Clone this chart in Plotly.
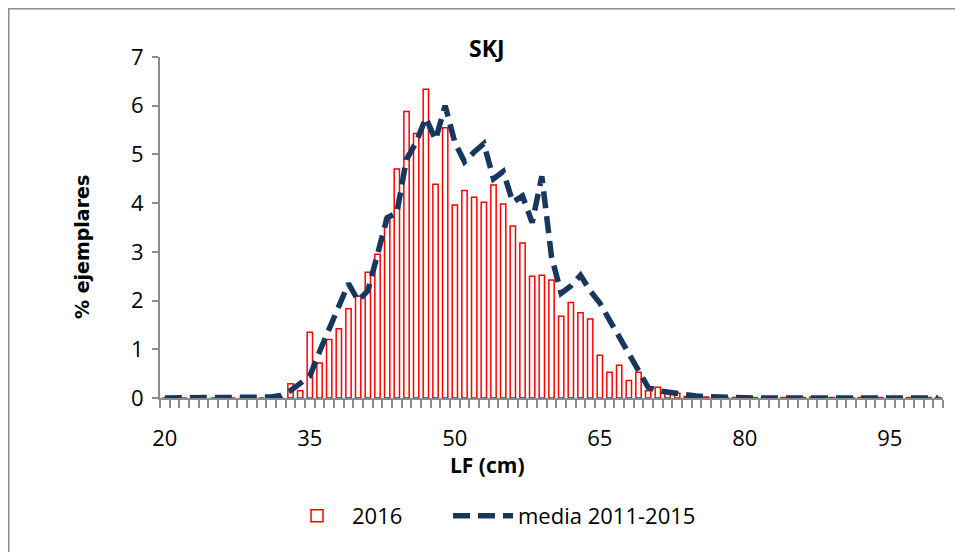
import plotly.graph_objects as go

# LF (cm) categories
categories = list(range(20, 101))

# % ejemplares, 2016 (bars)
v2016 = [0]*13 + [
    0.29, 0.15, 1.35, 0.72, 1.20, 1.42, 1.83, 2.09, 2.58, 2.95,   # 33-42
    3.69, 4.70, 5.88, 5.43, 6.34, 4.39, 5.55, 3.96, 4.26, 4.12,   # 43-52
    4.02, 4.37, 3.98, 3.53, 3.18, 2.50, 2.52, 2.42, 1.68, 1.96,   # 53-62
    1.75, 1.62, 0.88, 0.53, 0.67, 0.36, 0.53, 0.15, 0.22, 0.13,   # 63-72
    0.10, 0.03, 0.02, 0.02, 0.02, 0.01, 0.01, 0.01, 0.01, 0.01,   # 73-82
    0.01, 0.01, 0.01, 0.01, 0.02, 0.01, 0.01, 0.01, 0.01, 0.01,   # 83-92
    0.01, 0.01, 0.01, 0.01, 0.01, 0.01, 0.01, 0.01,               # 93-100
]

# % ejemplares, media 2011-2015 (dashed line)
vmedia = [0]*10 + [
    0.01, 0.02, 0.05, 0.15, 0.30, 0.45, 0.95, 1.40, 1.90, 2.35,   # 30-39
    2.00, 2.20, 2.95, 3.70, 3.80, 4.90, 5.25, 5.75, 5.30, 6.00,   # 40-49
    5.25, 4.85, 5.05, 5.22, 4.50, 4.65, 4.02, 4.15, 3.60, 4.55,   # 50-59
    2.90, 2.15, 2.30, 2.52, 2.20, 1.95, 1.60, 1.25, 0.95, 0.60,   # 60-69
    0.22, 0.15, 0.12, 0.09, 0.06, 0.04, 0.03, 0.02, 0.01, 0.00,   # 70-79
    0.00, 0.00, 0.00, 0.00, 0.00, 0.01, 0.01, 0.02, 0.02, 0.01,   # 80-89
    0.00, 0.00, 0.00, 0.00, 0.00, 0.00, 0.00, 0.00, 0.00, 0.00,   # 90-99
    0.00,                                                          # 100
]

x_ticks = [20, 35, 50, 65, 80, 95]
y_ticks = [0, 1, 2, 3, 4, 5, 6, 7]

FONT = "Open Sans, sans-serif"
AXIS_GRAY = "#8c8c8c"
NAVY = "#17375E"

# page has an 8px body margin; figure sized/positioned to compensate
W, H = 955, 544
L, T, PW, PH = 152, 49, 783, 341

def px(xp):  # page x -> paper
    return (xp - 8 - L) / PW

def py(yp):  # page y -> paper
    return (T + PH - (yp - 8)) / PH

fig = go.Figure()
fig.add_trace(go.Bar(
    x=categories, y=v2016, name="2016", width=0.55,
    marker=dict(color="white", line=dict(color="#FF0000", width=1.5)),
    legend="legend",
))
fig.add_trace(go.Scatter(
    x=categories, y=vmedia, name="media 2011-2015", mode="lines",
    line=dict(color=NAVY, width=5.5, dash="17px,8px"),
    legend="legend2",
))

legend_common = dict(orientation="h", xanchor="left", yanchor="middle",
                     font=dict(family=FONT, size=22), itemwidth=60,
                     bgcolor="rgba(0,0,0,0)")

fig.update_layout(
    width=W, height=H,
    margin=dict(l=L, r=W - L - PW, t=T, b=H - T - PH, pad=0),
    paper_bgcolor="white", plot_bgcolor="white",
    font=dict(family=FONT, size=22, color="#000000"),
    showlegend=True,
    legend=dict(x=px(282), y=py(516), **legend_common),
    legend2=dict(x=px(448), y=py(516), **legend_common),
    xaxis=dict(
        range=[19.5, 100.5], tickmode="array", tickvals=x_ticks,
        ticktext=[str(v) for v in x_ticks], ticks="", showgrid=False,
        showline=True, linecolor=AXIS_GRAY, linewidth=2, zeroline=False,
        tickfont=dict(size=22), ticklabelstandoff=20,
        minor=dict(tick0=19.5, dtick=1, ticks="outside", ticklen=8,
                   tickcolor=AXIS_GRAY, tickwidth=2, showgrid=False),
    ),
    yaxis=dict(
        range=[0, 7], tickmode="array", tickvals=y_ticks, ticks="outside",
        ticklen=6, tickcolor=AXIS_GRAY, tickwidth=2, showgrid=False,
        showline=True, linecolor=AXIS_GRAY, linewidth=2, zeroline=False,
        tickfont=dict(size=22), ticklabelstandoff=4,
    ),
    annotations=[
        dict(text="<b>SKJ</b>", xref="paper", yref="paper", x=px(487), y=py(48),
             showarrow=False, font=dict(family=FONT, size=23), yanchor="middle"),
        dict(text="<b>LF (cm)</b>", xref="paper", yref="paper", x=px(487), y=py(465),
             showarrow=False, font=dict(family=FONT, size=21), yanchor="middle"),
        dict(text="<b>% ejemplares</b>", xref="paper", yref="paper", x=px(82), y=py(247),
             showarrow=False, textangle=-90, font=dict(family="DejaVu Sans, sans-serif", size=19),
             xanchor="center", yanchor="middle"),
    ],
    shapes=[
        dict(type="rect", xref="paper", yref="paper",
             x0=px(8.5), x1=px(990), y0=py(600), y1=py(8.5),
             line=dict(color="#8c8c8c", width=2), layer="below"),
    ],
)

fig.write_html("out.html")
